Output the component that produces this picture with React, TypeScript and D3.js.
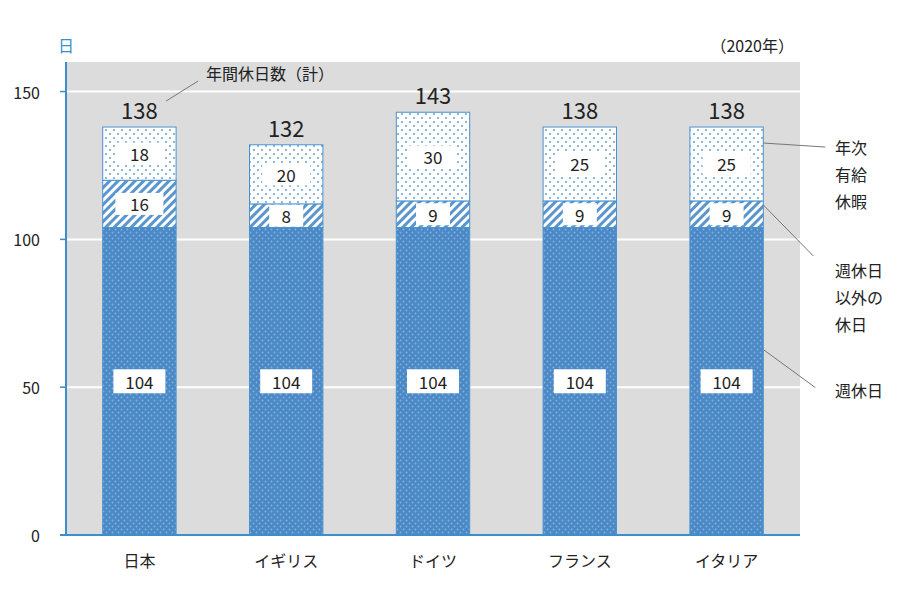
import React from "react";
import * as d3 from "d3";

const countries = ["日本", "イギリス", "ドイツ", "フランス", "イタリア"];
const weeklyHolidays = [104, 104, 104, 104, 104];
const otherHolidays = [16, 8, 9, 9, 9];
const paidLeave = [18, 20, 30, 25, 25];
const totals = [138, 132, 143, 138, 138];
const yTicks = [0, 50, 100, 150];

const W = 900;
const H = 600;
const margin = { top: 62, right: 100, bottom: 65, left: 66 };
const FONT = '"Noto Sans CJK JP", "Noto Sans", sans-serif';
const BLUE = "#4a89c6";
const LINE_BLUE = "#3b8fcb";

const App: React.FC = () => {
  const x = d3
    .scaleBand<string>()
    .domain(countries)
    .range([margin.left, W - margin.right])
    .paddingInner(0.5)
    .paddingOuter(0.25);
  const y = d3
    .scaleLinear()
    .domain([0, 160])
    .range([H - margin.bottom, margin.top]);

  const series = [
    { key: "weekly", values: weeklyHolidays, fill: "url(#pWeekly)" },
    { key: "other", values: otherHolidays, fill: "url(#pOther)" },
    { key: "paid", values: paidLeave, fill: "url(#pPaid)" },
  ];

  // 積み上げ
  const stacked = countries.map((c, i) => {
    let acc = 0;
    return series.map((s) => {
      const v = s.values[i];
      const seg = { key: s.key, fill: s.fill, y0: acc, y1: acc + v, v, c };
      acc += v;
      return seg;
    });
  });

  const bw = x.bandwidth();
  const li = countries.length - 1;
  const lastX = (x(countries[li]) ?? 0) + bw;
  const [top0, top1, top2] = stacked[li];
  const firstX = (x(countries[0]) ?? 0) + bw;

  return (
    <svg width={W} height={H} style={{ display: "block", margin: -8 }}>
      <defs>
        <pattern id="pWeekly" width="6" height="6" patternUnits="userSpaceOnUse">
          <rect width="6" height="6" fill={BLUE} />
          <circle cx="1.5" cy="1.5" r="0.9" fill="#84b3df" />
          <circle cx="4.5" cy="4.5" r="0.9" fill="#84b3df" />
        </pattern>
        <pattern
          id="pOther"
          width="6"
          height="6"
          patternUnits="userSpaceOnUse"
          patternTransform="rotate(45)"
        >
          <rect width="6" height="6" fill="#fff" />
          <rect width="3" height="6" fill="#5a95cd" />
        </pattern>
        <pattern id="pPaid" width="8" height="8" patternUnits="userSpaceOnUse">
          <rect width="8" height="8" fill="#fff" />
          <circle cx="2" cy="2" r="0.9" fill="#5a95cd" />
          <circle cx="6" cy="6" r="0.9" fill="#5a95cd" />
        </pattern>
      </defs>

      <rect
        x={margin.left}
        y={margin.top}
        width={W - margin.right - margin.left}
        height={H - margin.bottom - margin.top}
        fill="#dcdcdc"
      />
      {yTicks
        .filter((t) => t > 0)
        .map((t) => (
          <line
            key={t}
            x1={margin.left}
            x2={W - margin.right}
            y1={y(t)}
            y2={y(t)}
            stroke="#fff"
            strokeWidth={2}
          />
        ))}

      {stacked.map((segs) =>
        segs.map((s) => (
          <rect
            key={s.c + s.key}
            x={x(s.c)}
            y={y(s.y1)}
            width={bw}
            height={y(s.y0) - y(s.y1)}
            fill={s.fill}
            stroke="#4a93cf"
            strokeWidth={1}
          />
        ))
      )}

      {/* 値ラベル */}
      {stacked.map((segs) =>
        segs.map((s) => {
          const cx = (x(s.c) ?? 0) + bw / 2;
          const h = y(s.y0) - y(s.y1);
          const txt = String(s.v);
          const bwid = s.key === "weekly" ? 52 : txt.length > 1 ? 48 : 34;
          const bh = Math.min(s.key === "weekly" ? 24 : 22, h - 1);
          const cy = (y(s.y0) + y(s.y1)) / 2;
          return (
            <g key={s.c + s.key + "l"}>
              <rect x={cx - bwid / 2} y={cy - bh / 2} width={bwid} height={bh} fill="#fff" />
              <text
                x={cx}
                y={cy}
                textAnchor="middle"
                dominantBaseline="central"
                fontSize={17}
                fontFamily={FONT}
                fill="#222"
              >
                {txt}
              </text>
            </g>
          );
        })
      )}

      {countries.map((c, i) => (
        <text
          key={c + "t"}
          x={(x(c) ?? 0) + bw / 2}
          y={y(totals[i]) - 8}
          textAnchor="middle"
          fontSize={22}
          fontFamily={FONT}
          fill="#222"
        >
          {totals[i]}
        </text>
      ))}

      {/* 軸 */}
      <line
        x1={margin.left}
        x2={margin.left}
        y1={margin.top}
        y2={H - margin.bottom}
        stroke={LINE_BLUE}
        strokeWidth={2}
      />
      <line
        x1={margin.left - 6}
        x2={W - margin.right}
        y1={H - margin.bottom}
        y2={H - margin.bottom}
        stroke={LINE_BLUE}
        strokeWidth={2}
      />
      {yTicks.map((t) => (
        <g key={t + "y"}>
          <line
            x1={margin.left - 6}
            x2={margin.left}
            y1={y(t)}
            y2={y(t)}
            stroke={LINE_BLUE}
            strokeWidth={1.5}
          />
          <text
            x={margin.left - 26}
            y={y(t)}
            textAnchor="end"
            dominantBaseline="central"
            fontSize={16}
            fontFamily={FONT}
            fill="#222"
          >
            {t}
          </text>
        </g>
      ))}
      {countries.map((c) => (
        <text
          key={c + "x"}
          x={(x(c) ?? 0) + bw / 2}
          y={H - margin.bottom + 32}
          textAnchor="middle"
          fontSize={16}
          fontFamily={FONT}
          fill="#222"
        >
          {c}
        </text>
      ))}

      <text x={margin.left} y={52} textAnchor="middle" fontSize={16} fontFamily={FONT} fill={LINE_BLUE}>
        日
      </text>
      <text x={W - margin.right - 6} y={52} textAnchor="end" fontSize={16} fontFamily={FONT} fill="#222">
        （2020年）
      </text>

      {/* 年間休日数 注記 */}
      <path
        d={`M${firstX - 10},${y(totals[0]) - 26} L${firstX + 22},${y(totals[0]) - 46}`}
        stroke="#777"
        strokeWidth={1}
        fill="none"
      />
      <text x={firstX + 30} y={80} fontSize={16} fontFamily={FONT} fill="#222">
        年間休日数（計）
      </text>

      {/* 右側の凡例注記 */}
      <path
        d={`M${lastX},${y(top2.y1) + 16} L${lastX + 62},${y(top2.y1) + 20}`}
        stroke="#777"
        strokeWidth={1}
        fill="none"
      />
      {["年次", "有給", "休暇"].map((t, k) => (
        <text key={t} x={835} y={154 + k * 27} fontSize={16} fontFamily={FONT} fill="#222">
          {t}
        </text>
      ))}
      <path
        d={`M${lastX},${y(top1.y1) + 4} L${lastX + 50},${y(top1.y1) + 55}`}
        stroke="#777"
        strokeWidth={1}
        fill="none"
      />
      {["週休日", "以外の", "休日"].map((t, k) => (
        <text key={t} x={835} y={277 + k * 27} fontSize={16} fontFamily={FONT} fill="#222">
          {t}
        </text>
      ))}
      <path
        d={`M${lastX},${y(top0.y1) + 122} L${lastX + 52},${y(top0.y1) + 160}`}
        stroke="#777"
        strokeWidth={1}
        fill="none"
      />
      <text x={835} y={397} fontSize={16} fontFamily={FONT} fill="#222">
        週休日
      </text>
    </svg>
  );
};

export default App;
